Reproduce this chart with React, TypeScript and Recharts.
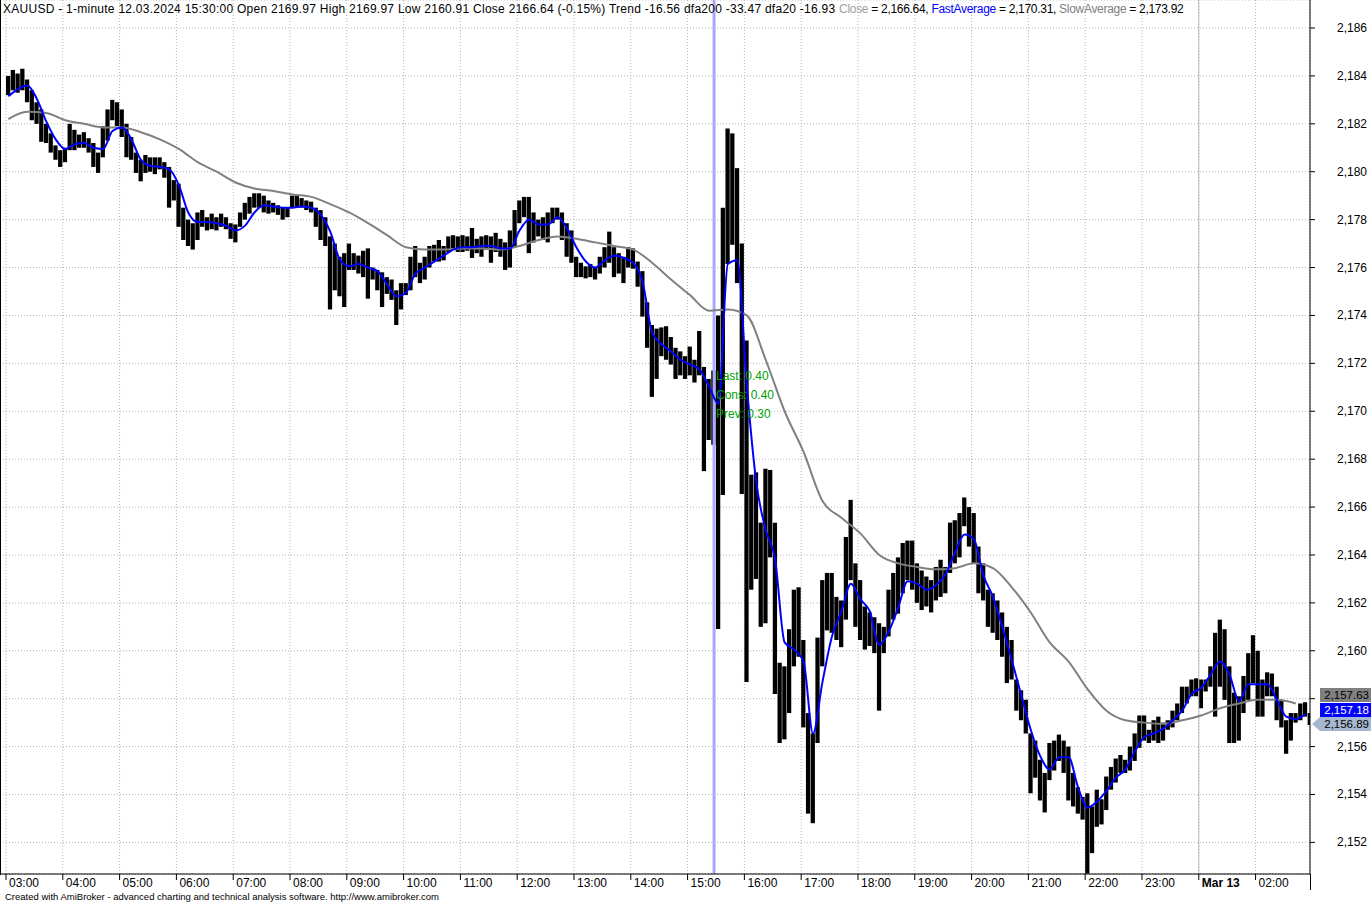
import React from 'react';
import { ComposedChart, Bar, Line, XAxis, YAxis, CartesianGrid, ReferenceLine } from 'recharts';

// one row of 12 five-minute buckets per hour, 03:00 .. 02:55 (no bars 00:00-01:00)
const hourLabels = [
  '03:00', '04:00', '05:00', '06:00', '07:00', '08:00', '09:00', '10:00', '11:00', '12:00', '13:00', '14:00',
  '15:00', '16:00', '17:00', '18:00', '19:00', '20:00', '21:00', '22:00', '23:00', 'Mar 13', '02:00',
];

const lows = [
  2183.2, 2183.4, 2183.3, 2183.4, 2182.9, 2182.15, 2182.0, 2181.25, 2181.2, 2180.8, 2180.5, 2180.2,
  2180.4, 2180.9, 2180.9, 2181.0, 2181.0, 2180.8, 2180.2, 2179.95, 2180.6, 2181.3, 2182.15, 2181.9,
  2181.45, 2180.6, 2180.5, 2179.95, 2179.6, 2179.95, 2180.0, 2179.9, 2180.1, 2179.75, 2178.5, 2178.8,
  2177.7, 2177.15, 2176.9, 2176.75, 2177.15, 2177.7, 2177.55, 2177.6, 2177.55, 2177.7, 2177.6, 2177.2,
  2177.05, 2177.7, 2178.0, 2178.25, 2178.5, 2178.5, 2178.3, 2178.25, 2178.3, 2178.2, 2178.0, 2178.1,
  2178.5, 2178.5, 2178.5, 2178.4, 2178.3, 2177.7, 2177.15, 2176.9, 2174.25, 2175.05, 2174.8, 2174.35,
  2175.9, 2175.9, 2175.75, 2175.6, 2174.7, 2175.5, 2175.05, 2174.35, 2174.9, 2174.65, 2173.6, 2174.25,
  2174.85, 2175.05, 2175.6, 2175.35, 2175.5, 2176.0, 2176.25, 2176.25, 2176.3, 2176.65, 2176.75, 2176.65,
  2176.65, 2176.7, 2176.4, 2176.6, 2176.45, 2176.75, 2176.2, 2176.65, 2176.45, 2175.9, 2176.0, 2176.85,
  2177.85, 2178.1, 2176.6, 2177.05, 2177.3, 2177.15, 2177.05, 2177.85, 2178.0, 2177.15, 2176.45, 2176.2,
  2175.6, 2175.6, 2175.55, 2175.6, 2175.5, 2175.75, 2176.0, 2176.2, 2175.6, 2175.75, 2175.35, 2176.0,
  2175.95, 2175.2, 2173.95, 2172.65, 2170.6, 2171.35, 2172.3, 2172.15, 2171.95, 2171.35, 2171.5, 2171.35,
  2171.5, 2171.2, 2171.5, 2167.5, 2168.8, 2168.6, 2160.91, 2166.5, 2176.15, 2176.95, 2175.35, 2166.55,
  2158.7, 2162.55, 2163.0, 2161.0, 2161.15, 2163.9, 2158.2, 2156.15, 2156.3, 2157.4, 2159.35, 2159.75,
  2156.8, 2153.2, 2152.8, 2156.15, 2159.35, 2160.85, 2160.75, 2160.45, 2160.15, 2161.3, 2162.95, 2161.0,
  2160.45, 2160.05, 2160.2, 2159.9, 2157.5, 2159.9, 2160.6, 2161.3, 2161.55, 2162.4, 2162.95, 2162.55,
  2162.0, 2161.7, 2161.85, 2161.6, 2162.1, 2162.25, 2162.4, 2163.25, 2163.65, 2163.9, 2165.2, 2164.35,
  2163.65, 2162.4, 2162.1, 2161.0, 2160.75, 2160.45, 2159.75, 2158.65, 2158.8, 2157.5, 2157.1, 2156.55,
  2154.05, 2154.7, 2153.75, 2153.25, 2154.6, 2155.0, 2155.4, 2154.9, 2153.75, 2153.5, 2153.2, 2152.95,
  2150.7, 2151.55, 2152.65, 2152.75, 2153.35, 2154.2, 2154.5, 2154.9, 2154.9, 2155.0, 2155.4, 2155.95,
  2156.25, 2156.15, 2156.25, 2156.15, 2156.25, 2156.7, 2156.8, 2157.1, 2157.4, 2157.8, 2158.1, 2158.1,
  2157.6, 2158.3, 2158.5, 2157.25, 2158.5, 2157.95, 2156.15, 2156.15, 2156.25, 2157.4, 2157.95, 2158.65,
  2157.25, 2157.25, 2158.1, 2158.1, 2157.1, 2156.8, 2155.7, 2156.25, 2157.0, 2157.1, 2157.25, 2156.9,
];

const highs = [
  2184.0, 2184.25, 2184.1, 2184.3, 2183.85, 2183.4, 2182.9, 2182.6, 2182.0, 2181.6, 2181.1, 2180.9,
  2181.0, 2182.0, 2181.75, 2181.55, 2181.65, 2181.4, 2181.2, 2180.8, 2181.9, 2182.6, 2183.0, 2182.9,
  2182.6, 2182.0, 2181.45, 2180.8, 2180.5, 2180.7, 2180.6, 2180.6, 2180.6, 2180.4, 2180.2, 2179.65,
  2179.5, 2178.5, 2178.0, 2177.85, 2178.3, 2178.4, 2178.1, 2178.25, 2178.1, 2178.25, 2178.1, 2177.85,
  2177.8, 2178.3, 2178.7, 2178.95, 2179.1, 2179.1, 2179.0, 2178.8, 2178.7, 2178.6, 2178.5, 2178.5,
  2179.0, 2179.0, 2178.9, 2178.8, 2178.75, 2178.5, 2178.4, 2178.1, 2177.3, 2177.0, 2176.45, 2176.6,
  2177.0, 2176.6, 2176.5, 2176.7, 2176.8, 2176.0, 2175.9, 2175.8, 2175.6, 2175.5, 2175.05, 2175.35,
  2175.35, 2176.45, 2176.9, 2176.2, 2176.45, 2176.9, 2176.95, 2177.15, 2176.9, 2177.3, 2177.35, 2177.3,
  2177.35, 2177.3, 2177.65, 2177.2, 2177.3, 2177.35, 2177.3, 2177.45, 2177.2, 2177.05, 2177.55, 2178.4,
  2178.8, 2178.95, 2178.95, 2178.3, 2178.0, 2178.1, 2178.3, 2178.5, 2178.5, 2178.3, 2177.85, 2177.55,
  2176.45, 2176.2, 2176.05, 2176.15, 2176.0, 2176.45, 2176.85, 2177.5, 2176.85, 2176.6, 2176.45, 2176.85,
  2176.8, 2176.25, 2175.85, 2174.55, 2173.6, 2173.45, 2173.5, 2173.55, 2173.1, 2172.65, 2172.5, 2172.3,
  2172.7, 2172.15, 2173.35, 2171.85, 2171.35, 2171.7, 2174.0, 2178.5, 2181.8, 2181.6, 2180.15, 2177.0,
  2172.95, 2167.35, 2167.45, 2165.35, 2167.6, 2167.55, 2165.35, 2159.5, 2159.35, 2160.9, 2162.55, 2162.65,
  2160.45, 2157.4, 2156.55, 2160.55, 2162.95, 2163.25, 2163.25, 2162.25, 2162.1, 2164.75, 2166.3, 2163.65,
  2162.95, 2161.85, 2161.6, 2161.4, 2161.15, 2161.0, 2162.55, 2163.25, 2163.9, 2164.5, 2164.6, 2164.6,
  2163.65, 2163.35, 2163.1, 2162.95, 2163.5, 2163.8, 2163.5, 2165.35, 2165.45, 2165.75, 2166.4, 2166.0,
  2165.75, 2164.35, 2163.65, 2162.55, 2162.4, 2162.1, 2161.6, 2161.0, 2160.45, 2158.8, 2158.35, 2157.95,
  2156.55, 2156.25, 2155.45, 2154.9, 2156.15, 2156.25, 2156.5, 2156.25, 2156.0, 2154.9, 2154.3, 2153.9,
  2154.05, 2153.5, 2154.2, 2153.8, 2154.75, 2155.15, 2155.5, 2155.65, 2155.45, 2156.0, 2156.55, 2157.3,
  2157.3, 2156.7, 2157.1, 2157.25, 2157.0, 2157.1, 2157.5, 2157.8, 2158.5, 2158.5, 2158.8, 2158.85,
  2158.8, 2158.8, 2159.35, 2160.75, 2161.3, 2160.9, 2159.35, 2158.25, 2158.1, 2158.95, 2159.9, 2160.65,
  2160.0, 2158.8, 2159.1, 2159.05, 2158.5, 2157.95, 2157.1, 2157.4, 2157.4, 2157.8, 2157.85, 2157.4,
];

// FastAverage, read every 10 minutes
const fastAverage = [
  2183.15, 2183.45, 2183.6, 2183.05, 2182.1, 2181.35,
  2180.95, 2181.15, 2181.2, 2181.0, 2180.95, 2181.7,
  2181.85, 2181.35, 2180.5, 2180.25, 2180.2, 2180.1,
  2179.45, 2178.3, 2177.9, 2177.9, 2177.85, 2177.75,
  2177.55, 2177.75, 2178.3, 2178.6, 2178.55, 2178.5,
  2178.5, 2178.55, 2178.5, 2178.2, 2177.5, 2176.35,
  2176.05, 2176.15, 2176.0, 2175.85, 2175.3, 2174.8,
  2174.95, 2175.75, 2176.0, 2176.25, 2176.5, 2176.75,
  2176.85, 2176.85, 2176.9, 2176.9, 2176.8, 2176.8,
  2177.55, 2178.0, 2177.8, 2177.8, 2178.1, 2177.65,
  2176.85, 2176.25, 2176.0, 2176.3, 2176.5, 2176.4,
  2176.2, 2175.4, 2173.3, 2172.8, 2172.5, 2172.15,
  2171.95, 2171.75, 2171.05, 2170.31, 2176.15, 2176.3,
  2171.1, 2167.05, 2165.05, 2163.8, 2160.35, 2160.05,
  2159.55, 2156.55, 2158.7, 2160.6, 2161.65, 2162.8,
  2162.15, 2161.65, 2160.25, 2160.8, 2161.8, 2162.9,
  2162.8, 2162.55, 2162.75, 2163.2, 2164.1, 2164.85,
  2164.65, 2163.15, 2162.25, 2161.0, 2159.6, 2158.15,
  2156.7, 2155.6, 2155.05, 2155.55, 2155.55, 2154.3,
  2153.45, 2153.7, 2154.15, 2154.7, 2155.05, 2155.8,
  2156.4, 2156.55, 2156.75, 2157.1, 2157.5, 2158.2,
  2158.45, 2159.0, 2159.55, 2159.0, 2157.9, 2158.6,
  2158.6, 2158.6, 2157.95, 2157.25, 2157.15, 2157.35,
];

// SlowAverage, read every 20 minutes
const slowAverage = [
  2182.2, 2182.5, 2182.45,
  2182.15, 2182.0, 2181.85,
  2181.85, 2181.65, 2181.35,
  2180.95, 2180.4, 2180.0,
  2179.55, 2179.3, 2179.2,
  2179.05, 2178.95, 2178.65,
  2178.3, 2177.85, 2177.35,
  2176.85, 2176.75, 2176.75,
  2176.8, 2176.8, 2176.75,
  2176.9, 2177.15, 2177.3,
  2177.2, 2177.05, 2176.9,
  2176.75, 2176.2, 2175.5,
  2174.85, 2174.2, 2174.25,
  2174.0, 2172.15, 2170.0,
  2168.3, 2166.25, 2165.55,
  2164.9, 2164.0, 2163.65,
  2163.5, 2163.4, 2163.45,
  2163.65, 2163.45, 2162.65,
  2161.6, 2160.35, 2159.55,
  2158.4, 2157.5, 2157.1,
  2157.0, 2156.95, 2157.1,
  2157.3, 2157.6, 2157.8,
  2157.95, 2157.95, 2157.8,
];

const priceTicks = [2152, 2154, 2156, 2158, 2160, 2162, 2164, 2166, 2168, 2170, 2172, 2174, 2176, 2178, 2180, 2182, 2184, 2186];

const lastValues = [
  { name: 'SlowAverage', value: 2157.63, bg: '#808080', color: '#000000' },
  { name: 'FastAverage', value: 2157.18, bg: '#0000ff', color: '#ffffff' },
  { name: 'Close', value: 2156.89, bg: '#a6b8cf', color: '#000000' },
];

const notes = [
  { label: 'Last', value: '0.40' },
  { label: 'Cons', value: '0.40' },
  { label: 'Prev', value: '0.30' },
];

const PER_HOUR = 12;
const hourTicks = hourLabels.map((_, i) => i * PER_HOUR);
const selectedBar = 149.6; // 15:30
const dayBreak = 21 * PER_HOUR;

const rows = lows.map((lo, k) => ({
  x: k + 0.5,
  range: [lo, highs[k]],
  fast: k % 2 === 0 ? fastAverage[k / 2] : undefined,
  slow: k % 4 === 0 ? slowAverage[k / 4] : undefined,
}));

const FONT = '"Liberation Sans", Arial, sans-serif';

const HourTick = (props: any) => {
  const { x, y, payload } = props;
  const label = hourLabels[payload.value / PER_HOUR];
  return (
    <g>
      <line x1={x} y1={y} x2={x} y2={y + 6} stroke="#000" />
      <text x={x + 3} y={y + 13} fontSize={12} fontFamily={FONT} fill="#000"
        fontWeight={label === 'Mar 13' ? 'bold' : 'normal'}>{label}</text>
    </g>
  );
};

// the last-value badges cover the axis label that sits behind them
const hiddenByBadges = (v: number) => v > lastValues[2].value && v < lastValues[0].value + 1;

const PriceTick = (props: any) => {
  const { x, y, payload } = props;
  return (
    <g>
      <line x1={x} y1={y} x2={x + 5} y2={y} stroke="#000" />
      {!hiddenByBadges(payload.value) && (
        <text x={x + 57} y={y + 4} textAnchor="end" fontSize={12} fontFamily={FONT} fill="#000">
          {payload.value.toLocaleString('en-US')}
        </text>
      )}
    </g>
  );
};

export default function App() {
  return (
    <div style={{ position: 'absolute', left: 0, top: 0, width: 1371, height: 903, background: '#fff', fontFamily: FONT }}>
      <ComposedChart width={1371} height={903} data={rows} margin={{ top: 0, right: 0, bottom: 0, left: 0 }}>
        <CartesianGrid stroke="#b4b4b4" strokeDasharray="1 2" />
        <XAxis dataKey="x" type="number" domain={[-1.27, 275.5]} allowDataOverflow ticks={hourTicks}
          interval={0} tick={<HourTick />} tickLine={false} tickSize={0} tickMargin={0} height={29}
          axisLine={{ stroke: '#000' }} />
        <YAxis orientation="right" width={61} domain={[2150.68, 2187.17]} allowDataOverflow ticks={priceTicks}
          tick={<PriceTick />} tickLine={false} tickSize={0} tickMargin={0} axisLine={{ stroke: '#000' }} />
        <ReferenceLine x={dayBreak} stroke="#bdbdbd" />
        <ReferenceLine x={selectedBar} stroke="#a8a8ff" strokeWidth={3} />
        <Bar dataKey="range" fill="#000" barSize={5} isAnimationActive={false} />
        <Line dataKey="slow" type="monotone" stroke="#808080" strokeWidth={2} dot={false} connectNulls isAnimationActive={false} />
        <Line dataKey="fast" type="monotone" stroke="#0000ff" strokeWidth={2} dot={false} connectNulls isAnimationActive={false} />
      </ComposedChart>

      <div style={{ position: 'absolute', left: 0, top: 0, width: 1, height: 875, background: '#000' }} />
      <div style={{ position: 'absolute', left: 1310, top: 874, width: 1, height: 16, background: '#000' }} />

      <div style={{ position: 'absolute', left: 3, top: 2, fontSize: 12, whiteSpace: 'nowrap', color: '#000' }}>
        <span style={{ letterSpacing: 0.26 }}>
          XAUUSD - 1-minute 12.03.2024 15:30:00 Open 2169.97 High 2169.97 Low 2160.91 Close 2166.64 (-0.15%) Trend -16.56 dfa200 -33.47 dfa20 -16.93{' '}
        </span>
        <span style={{ letterSpacing: -0.3 }}>
          <span style={{ color: '#a0a0a0' }}>Close</span> = 2,166.64,{' '}
          <span style={{ color: '#0000ff' }}>FastAverage</span> = 2,170.31,{' '}
          <span style={{ color: '#808080' }}>SlowAverage</span> = 2,173.92
        </span>
      </div>

      {notes.map((n, i) => (
        <div key={n.label} style={{ position: 'absolute', left: 716, top: 369 + i * 19, fontSize: 12, color: '#00a000', whiteSpace: 'nowrap' }}>
          {n.label}: {n.value}
        </div>
      ))}

      {lastValues.map((v, i) => (
        <div key={v.name} style={{
          position: 'absolute', left: 1320, top: 688 + i * 14.5, width: 51, height: 14, background: v.bg,
          color: v.color, fontSize: 11.5, lineHeight: '14px', textAlign: 'right', paddingRight: 2, boxSizing: 'border-box',
          overflow: 'hidden',
        }}>
          {v.value.toLocaleString('en-US', { minimumFractionDigits: 2 })}
        </div>
      ))}
      <div style={{
        position: 'absolute', left: 1312, top: 717, width: 0, height: 0,
        borderTop: '7px solid transparent', borderBottom: '7px solid transparent', borderRight: '8px solid #a6b8cf',
      }} />

      <div style={{ position: 'absolute', left: 5, top: 891, fontSize: 9.5, color: '#000', whiteSpace: 'nowrap' }}>
        Created with AmiBroker - advanced charting and technical analysis software. http://www.amibroker.com
      </div>
    </div>
  );
}
